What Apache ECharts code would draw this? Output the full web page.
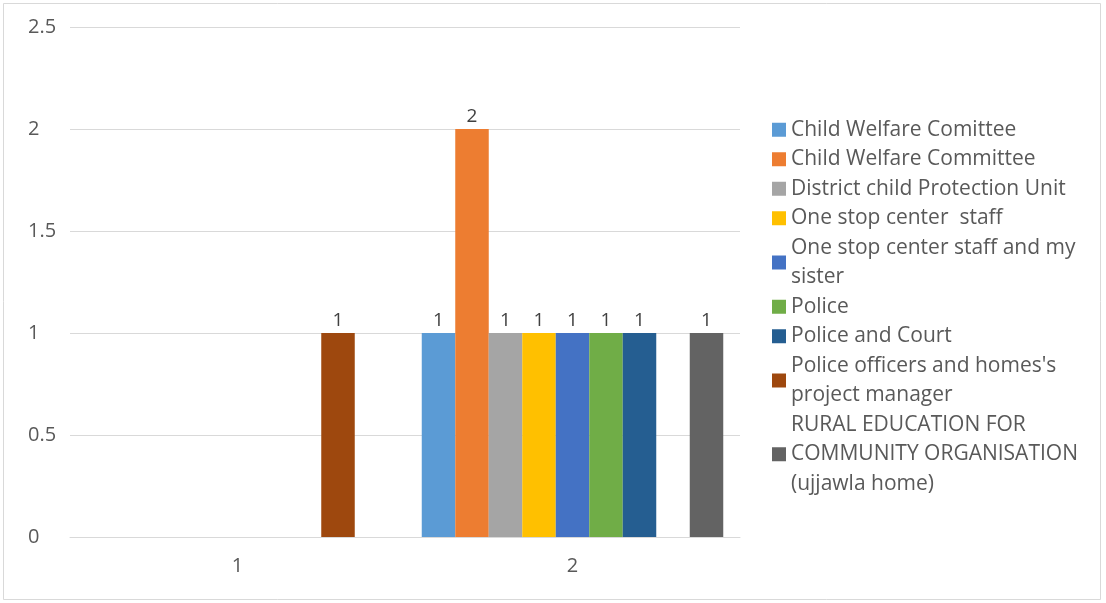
<!DOCTYPE html>
<html>
<head>
<meta charset="utf-8">
<script src="https://cdn.jsdelivr.net/npm/echarts@6/dist/echarts.min.js"></script>
<style>
html,body{margin:0;padding:0;background:#fff;}
#c{width:1106px;height:603px;}
</style>
</head>
<body>
<div id="c"></div>
<script>
const categories = ['1', '2'];
const seriesNames = [
  'Child Welfare Comittee',
  'Child Welfare Committee',
  'District child Protection Unit',
  'One stop center  staff',
  'One stop center staff and my\nsister',
  'Police',
  'Police and Court',
  "Police officers and homes's\nproject manager",
  'RURAL EDUCATION FOR\nCOMMUNITY ORGANISATION\n(ujjawla home)'
];
const childWelfareComittee = [null, 1];
const childWelfareCommittee = [null, 2];
const districtChildProtection = [null, 1];
const oneStopStaff = [null, 1];
const oneStopSister = [null, 1];
const police = [null, 1];
const policeCourt = [null, 1];
const policeOfficersManager = [1, null];
const ruralEducation = [null, 1];
const yTicks = { min: 0, max: 2.5, interval: 0.5 };
const colors = ['#5B9BD5','#ED7D31','#A5A5A5','#FFC000','#4472C4','#70AD47','#255E91','#9E480E','#636363'];

const values = [childWelfareComittee, childWelfareCommittee, districtChildProtection, oneStopStaff,
  oneStopSister, police, policeCourt, policeOfficersManager, ruralEducation];

const chart = echarts.init(document.getElementById('c'), null, {renderer: 'canvas'});
chart.setOption({
  animation: false,
  backgroundColor: '#fff',
  color: colors,
  textStyle: { fontFamily: 'Open Sans' },
  graphic: [{
    type: 'rect', shape: { x: 3.5, y: 3.5, width: 1097, height: 596 },
    style: { fill: 'none', stroke: '#d9d9d9', lineWidth: 1 }, silent: true
  }],
  grid: { left: 70, right: 366, top: 27, bottom: 66 },
  legend: {
    orient: 'vertical',
    left: 767,
    top: 110,
    itemWidth: 14,
    itemHeight: 14,
    itemGap: 0,
    icon: 'rect',
    textStyle: { color: '#595959', fontSize: 21, lineHeight: 29.5, fontFamily: 'Open Sans' },
    data: seriesNames
  },
  xAxis: {
    type: 'category',
    data: categories,
    axisTick: { show: false },
    axisLine: { lineStyle: { color: '#d9d9d9', width: 1 } },
    axisLabel: { color: '#595959', fontSize: 20, margin: 19 }
  },
  yAxis: {
    type: 'value',
    min: yTicks.min, max: yTicks.max, interval: yTicks.interval,
    axisLine: { show: false },
    axisTick: { show: false },
    splitLine: { lineStyle: { color: '#d9d9d9', width: 1 } },
    axisLabel: { color: '#595959', fontSize: 20, align: 'left', margin: 42 }
  },
  series: seriesNames.map((n, i) => ({
    name: n,
    type: 'bar',
    data: values[i],
    barGap: 0,
    barCategoryGap: '10%',
    label: { show: true, position: 'top', distance: 3, color: '#404040', fontSize: 19, fontFamily: 'Open Sans' }
  }))
});
</script>
</body>
</html>
